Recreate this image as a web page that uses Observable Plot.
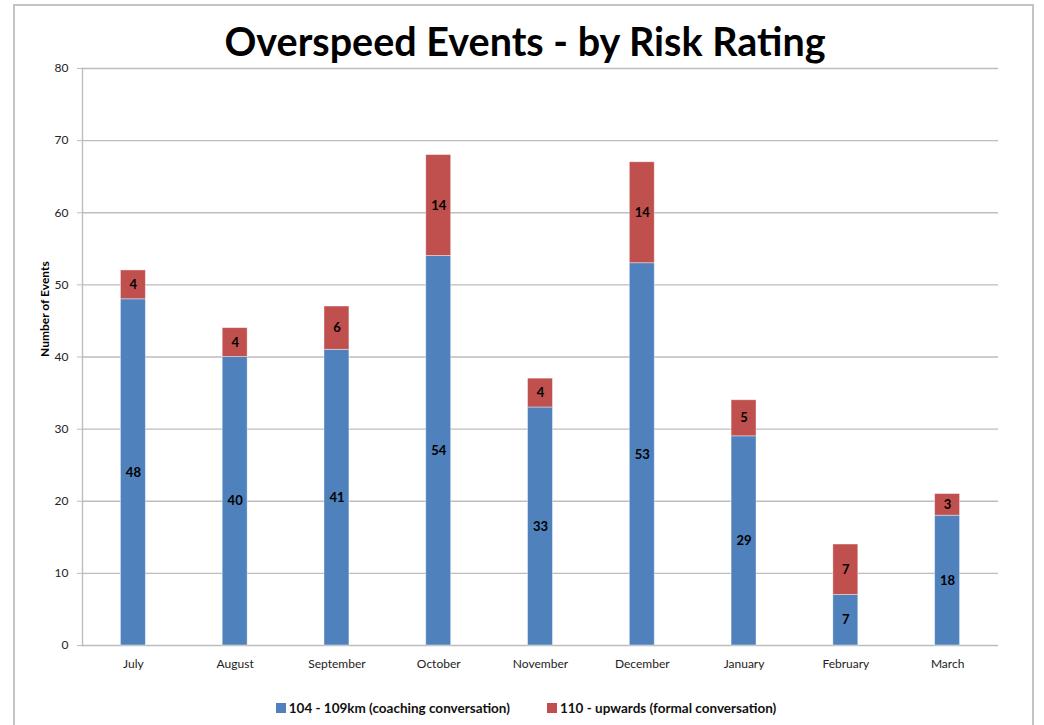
<!DOCTYPE html>
<html>
<head>
<meta charset="utf-8">
<script src="https://cdn.jsdelivr.net/npm/d3@7"></script>
<script src="https://cdn.jsdelivr.net/npm/@observablehq/plot@0.6"></script>
<style>
  html, body { margin: 0; padding: 0; background: #fff; }
  #wrap { position: relative; width: 1044px; height: 725px; overflow: hidden; font-family: Lato, "Open Sans", sans-serif; }
  #frame { position: absolute; left: 13px; top: 4px; width: 1021px; height: 740px; border: 2px solid #c4c4c4; box-sizing: border-box; }
  #title { position: absolute; left: 0; width: 1044px; top: 16px; padding-left: 6px; box-sizing: border-box; text-align: center; font-size: 39.5px; font-weight: 700; color: #000; line-height: 50px; }
  #chart { position: absolute; left: 0; top: 0; }
  #legend { position: absolute; top: 700px; left: 0; width: 1044px; display: flex; justify-content: center; gap: 37px; font-size: 13.5px; font-weight: 700; color: #111; padding-left: 8px; box-sizing: border-box; }
  #legend span.item { display: inline-flex; align-items: center; }
  #legend i { display: inline-block; width: 10px; height: 10px; margin-right: 3px; }
</style>
</head>
<body>
<div id="wrap">
  <div id="frame"></div>
  <div id="chart"></div>
  <div id="title">Overspeed Events - by Risk Rating</div>
  <div id="legend"></div>
</div>
<script>
// Monthly overspeed counts, split by speed band
const months = ["July", "August", "September", "October", "November", "December", "January", "February", "March"];
const coaching = [48, 40, 41, 54, 33, 53, 29, 7, 18];   // 104 - 109km
const formal = [4, 4, 6, 14, 4, 14, 5, 7, 3];            // 110 - upwards
const seriesNames = ["104 - 109km (coaching conversation)", "110 - upwards (formal conversation)"];
const seriesColors = ["#4F81BD", "#C0504D"];
const yTicks = [0, 10, 20, 30, 40, 50, 60, 70, 80];

const rows = [];
months.forEach((m, i) => {
  rows.push({month: m, series: seriesNames[0], value: coaching[i]});
  rows.push({month: m, series: seriesNames[1], value: formal[i]});
});

const chart = Plot.plot({
  width: 1044,
  height: 725,
  marginLeft: 82,
  marginRight: 46,
  marginTop: 68,
  marginBottom: 80,
  style: {fontFamily: "Lato, 'Open Sans', sans-serif", fontSize: "12px", background: "transparent"},
  x: {domain: months, paddingInner: 0.755, paddingOuter: 0.3775, align: 0.5, round: false},
  y: {domain: [0, 80]},
  color: {domain: seriesNames, range: seriesColors},
  marks: [
    Plot.gridY(yTicks, {stroke: "#bdbdbd", strokeOpacity: 1, strokeWidth: 1.4}),
    Plot.frame({anchor: "left", stroke: "#bdbdbd", strokeWidth: 1.4}),
    Plot.axisY(yTicks, {tickSize: 5, tickPadding: 9, stroke: "#bdbdbd", fill: "#222", label: null, tickFormat: d3.format("d")}),
    Plot.axisX({tickSize: 0, tickPadding: 14, fill: "#222", label: null}),
    Plot.barY(rows, {x: "month", y: "value", fill: "series", z: "series", stroke: "#fff", strokeOpacity: 0.5, strokeWidth: 0.8}),
    Plot.text(rows, Plot.stackY({x: "month", y: "value", z: "series", text: "value", fontWeight: "bold", fontSize: 13, fill: "#000"})),
    Plot.text(["Number of Events"], {frameAnchor: "left", dx: -37, rotate: -90, fontWeight: "bold", fontSize: 12, fill: "#000"})
  ]
});
document.getElementById("chart").appendChild(chart);

const legend = document.getElementById("legend");
seriesNames.forEach((name, i) => {
  const item = document.createElement("span");
  item.className = "item";
  const sw = document.createElement("i");
  sw.style.background = seriesColors[i];
  item.appendChild(sw);
  item.appendChild(document.createTextNode(name));
  legend.appendChild(item);
});
</script>
</body>
</html>
